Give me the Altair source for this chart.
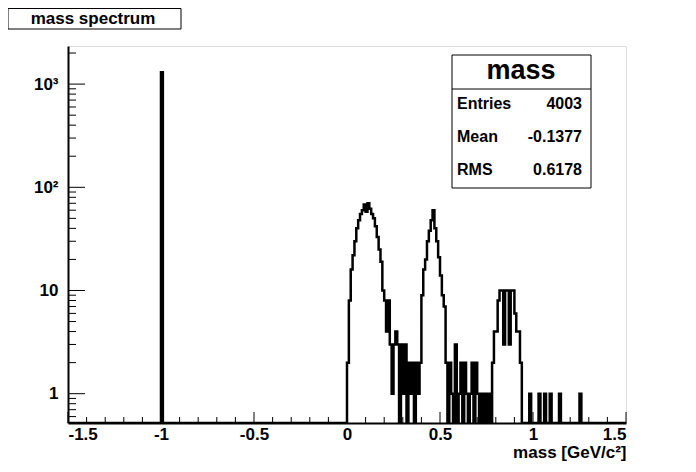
import altair as alt
import pandas as pd
import numpy as np

# ---- histogram definition (300 bins from -1.5 to 1.5) ----
bin_low = -1.5
bin_width = 0.01
n_bins = 300
spike_bin = -1.0
spike_count = 1300
region_start = 0.0
region_counts = [
    2, 8, 16, 22, 30, 40, 48, 55, 60, 68,      # 0.00-0.09
    58, 70, 62, 55, 50, 42, 33, 25, 19, 10,    # 0.10-0.19
    8, 4, 8, 3, 1, 3, 4, 3, 0, 3,              # 0.20-0.29
    1, 3, 0, 2, 1, 2, 0, 2, 1, 2,              # 0.30-0.39
    9, 16, 20, 30, 38, 48, 60, 40, 30, 21,     # 0.40-0.49
    14, 9, 7, 2, 0, 2, 1, 0, 3, 0,             # 0.50-0.59
    1, 2, 0, 2, 1, 0, 1, 2, 0, 2,              # 0.60-0.69
    1, 0, 1, 0, 1, 0, 1, 0, 2, 4,              # 0.70-0.79
    4, 8, 10, 10, 3, 10, 10, 3, 10, 10,        # 0.80-0.89
    6, 4, 4, 2, 0, 0, 0, 0, 1, 0,              # 0.90-0.99
    0, 0, 0, 1, 0, 0, 1, 0, 0, 1,              # 1.00-1.09
    0, 0, 0, 0, 1, 0, 0, 0, 0, 0,              # 1.10-1.19
    0, 0, 0, 0, 0, 1,                          # 1.20-1.25
]

x_major = [-1.5, -1.0, -0.5, 0.0, 0.5, 1.0, 1.5]
x_minor = [-1.4, -1.3, -1.2, -1.1, -0.9, -0.8, -0.7, -0.6, -0.4, -0.3, -0.2, -0.1,
           0.1, 0.2, 0.3, 0.4, 0.6, 0.7, 0.8, 0.9, 1.1, 1.2, 1.3, 1.4]
y_major = [1, 10, 100, 1000]
y_minor = [0.6, 0.7, 0.8, 0.9, 2, 3, 4, 5, 6, 7, 8, 9, 20, 30, 40, 50, 60, 70, 80, 90,
           200, 300, 400, 500, 600, 700, 800, 900, 2000]
y_min, y_max = 0.52, 2340

stats_labels = ["Entries", "Mean", "RMS"]
stats_values = ["4003", "-0.1377", "0.6178"]

# ---- build step table ----
counts = np.zeros(n_bins)
counts[int(round((spike_bin - bin_low) / bin_width))] = spike_count
i0 = int(round((region_start - bin_low) / bin_width))
counts[i0:i0 + len(region_counts)] = region_counts
edges = np.round(bin_low + bin_width * np.arange(n_bins + 1), 4)
hist = pd.DataFrame({"edge": edges, "count": list(counts) + [counts[-1]]})

FONT = "Liberation Sans"
W, H = 558, 377

xscale = alt.Scale(domain=[-1.5, 1.5], nice=False, zero=False)
yscale = alt.Scale(type="log", domain=[y_min, y_max], nice=False)

ylab = ("datum.value == 1000 ? '10\u00b3' : datum.value == 100 ? '10\u00b2' : "
        "datum.value == 10 ? '10' : '1'")

x_axis = alt.Axis(values=x_major, labelExpr="toString(datum.value)", ticks=False,
                  grid=False, domainColor="black", domainWidth=2,
                  labelFont=FONT, labelFontWeight="bold", labelFontSize=17,
                  labelColor="black", labelPadding=3,
                  title="mass [GeV/c\u00b2]", titleFont=FONT, titleFontWeight="bold",
                  titleFontSize=17, titleColor="black", titleAnchor="end",
                  titlePadding=2)
y_axis = alt.Axis(values=y_major, labelExpr=ylab, ticks=False, grid=False,
                  domainColor="black", domainWidth=2, labelFont=FONT,
                  labelFontWeight="bold", labelFontSize=17, labelColor="black",
                  labelPadding=10, title=None)

line = alt.Chart(hist).transform_calculate(
    c=f"max(datum.count, {y_min})"
).mark_line(interpolate="step-after", color="black", strokeWidth=2.5, clip=True).encode(
    x=alt.X("edge:Q", scale=xscale, axis=x_axis),
    y=alt.Y("c:Q", scale=yscale, axis=y_axis),
    order="edge:Q",
)

def xticks(vals, length):
    return alt.Chart(pd.DataFrame({"edge": vals})).mark_rule(color="black", strokeWidth=1).encode(
        x=alt.X("edge:Q", scale=xscale, axis=x_axis),
        y=alt.value(H), y2=alt.value(H - length))

def yticks(vals, length):
    return alt.Chart(pd.DataFrame({"c": vals})).mark_rule(color="black", strokeWidth=1).encode(
        y=alt.Y("c:Q", scale=yscale, axis=y_axis),
        x=alt.value(0), x2=alt.value(length))

one = pd.DataFrame({"a": [0]})

def box(x1, x2, y1, y2):
    return alt.Chart(one).mark_rect(fill="white", stroke="black", strokeWidth=1).encode(
        x=alt.value(x1), x2=alt.value(x2), y=alt.value(y1), y2=alt.value(y2))

def txt(s, x, y, size, align="center"):
    return alt.Chart(one).mark_text(text=s, font=FONT, fontWeight="bold", fontSize=size,
                                    color="black", align=align, baseline="middle").encode(
        x=alt.value(x), y=alt.value(y))

title_box = box(-60, 113, -37.5, -17)
title_txt = txt("mass spectrum", 25, -27, 17)

stats_box = box(384, 523, 9, 142)
stats_div = alt.Chart(one).mark_rule(color="black", strokeWidth=1).encode(
    x=alt.value(384), x2=alt.value(523), y=alt.value(43))
stats_title = txt("mass", 453, 25, 27)
rows_y = [58, 91, 124]
stats_rows = []
for lab, val, yy in zip(stats_labels, stats_values, rows_y):
    stats_rows.append(txt(lab, 389, yy, 16, "left"))
    stats_rows.append(txt(val, 514, yy, 16, "right"))

chart = alt.layer(
    line,
    xticks(x_major, 11), xticks(x_minor, 6),
    yticks(y_major, 17), yticks(y_minor, 8),
    title_box, title_txt, stats_box, stats_div, stats_title, *stats_rows,
).properties(
    width=W, height=H,
    autosize=alt.AutoSizeParams(type="none"),
    padding={"left": 60, "top": 38, "right": 62, "bottom": 41},
).configure_view(stroke="black", strokeWidth=1).configure(background="white")

chart.save("out.html", embed_options={"renderer": "svg", "actions": False})
